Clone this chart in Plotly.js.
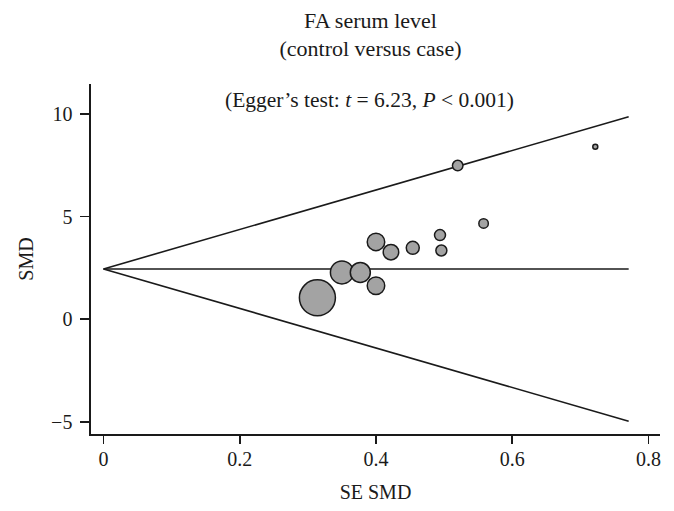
<!DOCTYPE html>
<html>
<head>
<meta charset="utf-8">
<script src="https://cdn.plot.ly/plotly-3.0.1.min.js"></script>
<style>html,body{margin:0;padding:0;background:#fff;}#chart{width:674px;height:511px;}</style>
</head>
<body>
<div id="chart"></div>
<script>
// Study-level data
const seSMD   = [0.314, 0.350, 0.377, 0.400, 0.400, 0.422, 0.454, 0.494, 0.496, 0.558, 0.520, 0.722];
const smd     = [1.04, 2.28, 2.28, 1.63, 3.77, 3.27, 3.48, 4.10, 3.35, 4.67, 7.49, 8.41];
const weight  = [36, 23, 20, 17.5, 17.5, 15.5, 13, 11, 11, 9.5, 10.5, 5];   // marker diameters (px)

// Egger regression / pooled-effect lines
const lineSE    = [0, 0.771];
const upperLine = [2.45, 9.87];
const pooled    = [2.45, 2.45];
const lowerLine = [2.45, -4.98];

const xTicks = [0, 0.2, 0.4, 0.6, 0.8];
const xTickText = ['0', '0.2', '0.4', '0.6', '0.8'];
const yTicks = [-5, 0, 5, 10];
const yTickText = ['\u22125', '0', '5', '10'];

const lineStyle = {color: '#1a1a1a', width: 1.6};
const traces = [
  {x: lineSE, y: upperLine, mode: 'lines', line: lineStyle, hoverinfo: 'skip'},
  {x: lineSE, y: pooled, mode: 'lines', line: lineStyle, hoverinfo: 'skip'},
  {x: lineSE, y: lowerLine, mode: 'lines', line: lineStyle, hoverinfo: 'skip'},
  {x: seSMD, y: smd, mode: 'markers',
   marker: {size: weight, color: '#a3a3a3', line: {color: '#1a1a1a', width: 1.5}, opacity: 1}}
];

const font = 'Liberation Serif, Times New Roman, serif';
const layout = {
  width: 674, height: 511,
  margin: {l: 91, r: 14, t: 84, b: 77, pad: 0},
  paper_bgcolor: '#fff', plot_bgcolor: '#fff',
  showlegend: false,
  font: {family: font, size: 20, color: '#1a1a1a'},
  title: {text: 'FA serum level<br>(control versus case)', font: {family: font, size: 22, color: '#1a1a1a'},
          xref: 'container', x: 0.5497, xanchor: 'center', yref: 'container', y: 0.946, yanchor: 'top'},
  xaxis: {range: [-0.0184, 0.817], tickvals: xTicks, ticktext: xTickText, showgrid: false, zeroline: false,
          showline: true, linecolor: '#1a1a1a', linewidth: 1.6, ticks: 'outside', ticklen: 8, tickwidth: 1.6,
          tickcolor: '#1a1a1a', ticklabelstandoff: -2, tickfont: {size: 20},
          title: {text: 'SE SMD', font: {size: 20}, standoff: 16}},
  yaxis: {range: [-5.6, 11.47], tickvals: yTicks, ticktext: yTickText, showgrid: false, zeroline: false,
          showline: true, linecolor: '#1a1a1a', linewidth: 1.6, ticks: 'outside', ticklen: 9, tickwidth: 1.6,
          tickcolor: '#1a1a1a', ticklabelstandoff: 4, tickfont: {size: 20},
          title: {text: 'SMD', font: {size: 20}, standoff: 12}},
  annotations: [{
    text: '(Egger\u2019s test: <i>t</i> = 6.23, <i>P</i> &lt; 0.001)',
    xref: 'paper', yref: 'paper', x: 0.4886, y: 0.954, xanchor: 'center', yanchor: 'middle',
    showarrow: false, font: {family: font, size: 21.5, color: '#1a1a1a'}
  }]
};

Plotly.newPlot('chart', traces, layout, {staticPlot: true, displayModeBar: false});
</script>
</body>
</html>
